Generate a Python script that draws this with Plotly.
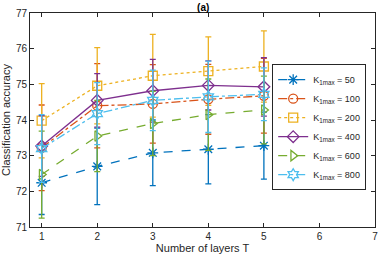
import plotly.graph_objects as go

layers = [1, 2, 3, 4, 5]
names = ["K<sub>1max</sub> = 50", "K<sub>1max</sub> = 100", "K<sub>1max</sub> = 200",
         "K<sub>1max</sub> = 400", "K<sub>1max</sub> = 600", "K<sub>1max</sub> = 800"]
acc_50 = [72.24, 72.70, 73.08, 73.18, 73.28]
err_50 = [0.89, 1.07, 0.92, 0.97, 0.94]
acc_100 = [73.22, 74.40, 74.45, 74.58, 74.68]
err_100 = [1.20, 1.18, 1.10, 0.98, 1.05]
acc_200 = [73.98, 74.96, 75.24, 75.37, 75.50]
err_200 = [1.04, 1.07, 1.16, 0.96, 1.00]
acc_400 = [73.27, 74.55, 74.82, 74.97, 74.93]
err_400 = [0.85, 0.75, 0.88, 0.69, 0.82]
acc_600 = [72.47, 73.55, 73.90, 74.15, 74.28]
err_600 = [1.22, 1.00, 0.90, 1.00, 0.95]
acc_800 = [73.20, 74.18, 74.55, 74.65, 74.72]
err_800 = [0.95, 0.87, 0.85, 1.00, 0.74]

series = [acc_50, acc_100, acc_200, acc_400, acc_600, acc_800]
errors = [err_50, err_100, err_200, err_400, err_600, err_800]
colors = ["#0072BD", "#D95319", "#EDB120", "#7E2F8E", "#77AC30", "#4DBEEE"]
dashes = ["dash", "dashdot", "dot", "solid", "dash", "dashdot"]
symbols = ["asterisk-open", "circle-open", "square-open", "diamond-open",
           "triangle-right-open", "hexagram-open"]

fig = go.Figure()
for name, y, e, c, d, s in zip(names, series, errors, colors, dashes, symbols):
    fig.add_trace(go.Scatter(
        x=layers, y=y, name=name, mode="lines+markers",
        line=dict(color=c, width=1.3, dash=d),
        marker=dict(symbol=s, size=9, color=c, line=dict(color=c, width=1.3)),
        error_y=dict(type="data", array=e, visible=True, color=c, thickness=1.3, width=3),
    ))

axis_common = dict(
    showgrid=False, zeroline=False, showline=True, linecolor="#262626", linewidth=1,
    mirror="ticks", ticks="inside", ticklen=4, tickcolor="#262626",
    tickfont=dict(family="Liberation Sans, Arial", size=10, color="#262626"),
)
fig.update_layout(
    width=382, height=256,
    margin=dict(l=29, r=4, t=13, b=26),
    paper_bgcolor="white", plot_bgcolor="white",
    title=dict(text="<b>(a)</b>", x=0.532, xanchor="center", y=0.985, yanchor="top",
               font=dict(family="Liberation Sans, Arial", size=10, color="black")),
    xaxis=dict(range=[0.79, 7], tickvals=[1, 2, 3, 4, 5, 6, 7],
               title=dict(text="Number of layers T", standoff=2,
                          font=dict(family="Liberation Sans, Arial", size=11, color="#262626")),
               **axis_common),
    yaxis=dict(range=[71, 77], tickvals=[71, 72, 73, 74, 75, 76, 77],
               title=dict(text="Classification accuracy", standoff=4,
                          font=dict(family="Liberation Sans, Arial", size=11, color="#262626")),
               **axis_common),
    legend=dict(x=0.702, y=0.761, xanchor="left", yanchor="top",
                bordercolor="#262626", borderwidth=1, bgcolor="white",
                font=dict(family="Liberation Sans, Arial", size=9, color="#262626"),
                tracegroupgap=0, itemwidth=30),
    showlegend=True,
)
fig.write_html("out.html", config={"displayModeBar": False},
               post_script="document.body.style.margin='0';")
